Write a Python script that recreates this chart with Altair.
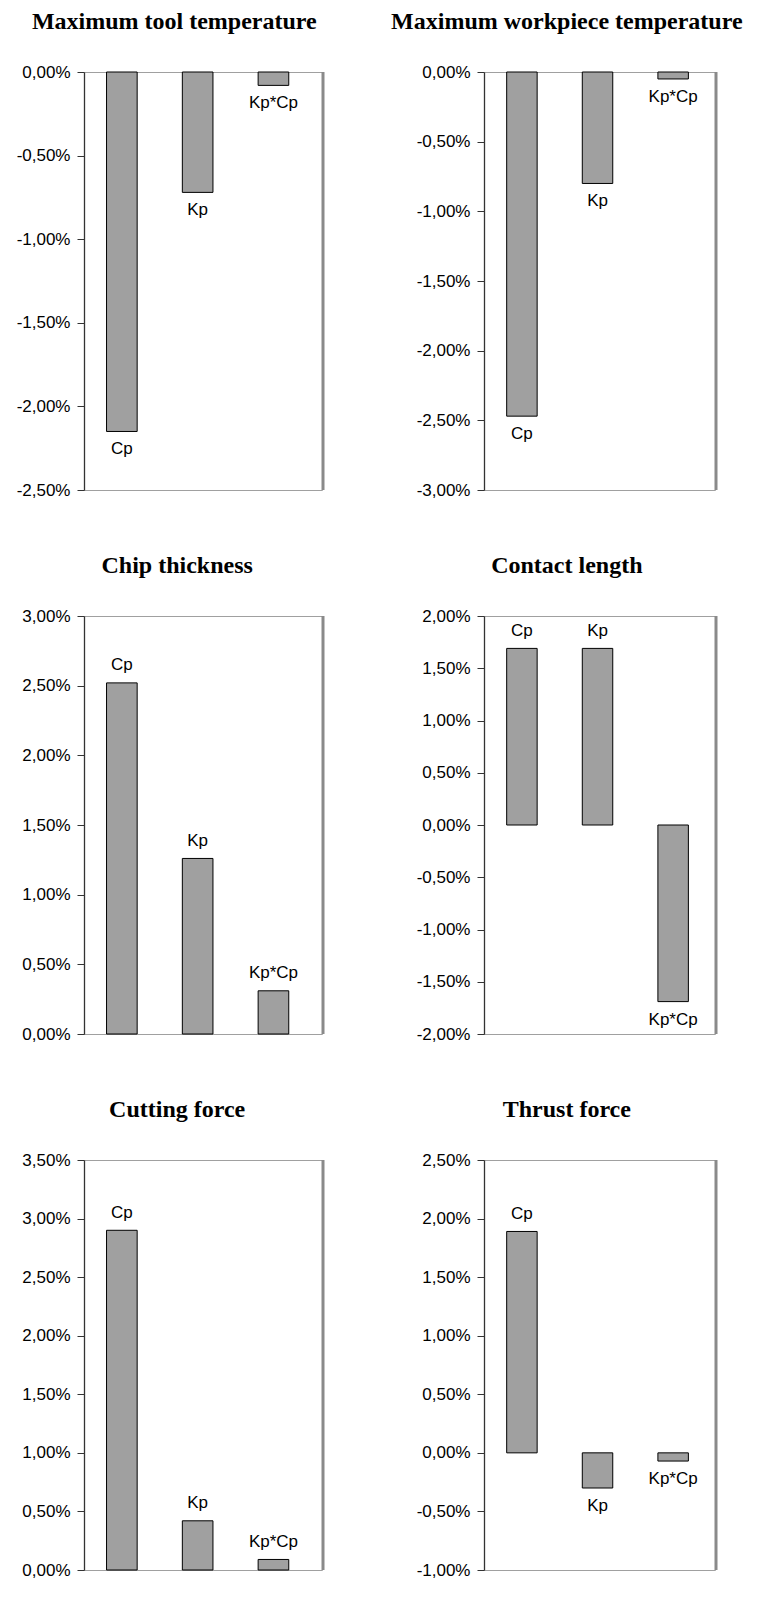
import altair as alt
import pandas as pd

categories = ["Cp", "Kp", "Kp*Cp"]

titles = [
    "Maximum tool temperature",
    "Maximum workpiece temperature",
    "Chip thickness",
    "Contact length",
    "Cutting force",
    "Thrust force",
]

# effects in percent
max_tool_temperature = [-2.15, -0.72, -0.08]
max_workpiece_temperature = [-2.47, -0.80, -0.05]
chip_thickness = [2.52, 1.26, 0.31]
contact_length = [1.69, 1.69, -1.69]
cutting_force = [2.90, 0.42, 0.09]
thrust_force = [1.89, -0.30, -0.07]

series = [max_tool_temperature, max_workpiece_temperature, chip_thickness,
          contact_length, cutting_force, thrust_force]

y_domains = [[-2.5, 0.0], [-3.0, 0.0], [0.0, 3.0], [-2.0, 2.0], [0.0, 3.5], [-1.0, 2.5]]

SANS = "Liberation Sans"
SERIF = "Liberation Serif"
LABEL_EXPR = "replace(replace(format(datum.value, '.2f'), '.', ','), '\u2212', '-') + '%'"


def panel(title, values, domain, col, height):
    df = pd.DataFrame({"cat": categories, "v": values})
    if col == 0:
        W = 238
        xs = alt.Scale(paddingInner=0.596, paddingOuter=0.368, align=0.404)
        tdx = 4
    else:
        W = 231
        xs = alt.Scale(paddingInner=0.597, paddingOuter=0.326, align=0.46)
        tdx = 0
    n = int(round((domain[1] - domain[0]) / 0.5))
    ticks = [domain[0] + 0.5 * i for i in range(n + 1)]
    x = alt.X("cat:N", sort=categories, scale=xs, axis=None)
    y = alt.Y("v:Q", scale=alt.Scale(domain=domain, nice=False),
              axis=alt.Axis(title=None, values=ticks, grid=False, labelExpr=LABEL_EXPR,
                            tickSize=7, tickColor="#333333", domainColor="#333333",
                            domainWidth=1.3, tickWidth=1, labelPadding=7,
                            labelFont=SANS, labelFontSize=17, labelColor="black",
                            labelFontWeight="normal"))
    base = alt.Chart(df)
    bars = base.mark_bar(color="#a0a0a0", stroke="black", strokeWidth=1).encode(x=x, y=y)
    pos = base.transform_filter("datum.v >= 0").mark_text(
        dy=-12.7, baseline="alphabetic", font=SANS, fontSize=17, color="black"
    ).encode(x=x, y=y, text="cat:N")
    neg = base.transform_filter("datum.v < 0").mark_text(
        dy=23, baseline="alphabetic", font=SANS, fontSize=17, color="black"
    ).encode(x=x, y=y, text="cat:N")
    edge = alt.Chart(pd.DataFrame({"a": [0]})).mark_rule(
        color="#8a8a8a", strokeWidth=3
    ).encode(x=alt.value(W + 1), y=alt.value(0), y2=alt.value(height))
    return alt.layer(bars, pos, neg, edge).properties(
        width=W, height=height,
        title=alt.TitleParams(text=title, font=SERIF, fontSize=24, fontWeight="bold",
                              color="black", anchor="middle", frame="bounds",
                              offset=29, dx=tdx),
    )


heights = [418, 418, 418, 418, 410, 410]
panels = [panel(t, s, d, i % 2, h) for i, (t, s, d, h) in enumerate(zip(titles, series, y_domains, heights))]

chart = alt.concat(*panels, columns=2, spacing={"row": 126, "column": 162}, bounds="flush").properties(
    padding={"left": 7, "top": 1, "right": 5, "bottom": 5}
).configure_view(stroke="#a0a0a0", strokeWidth=1)

chart.save("out.html", embed_options={"renderer": "svg", "actions": False})
